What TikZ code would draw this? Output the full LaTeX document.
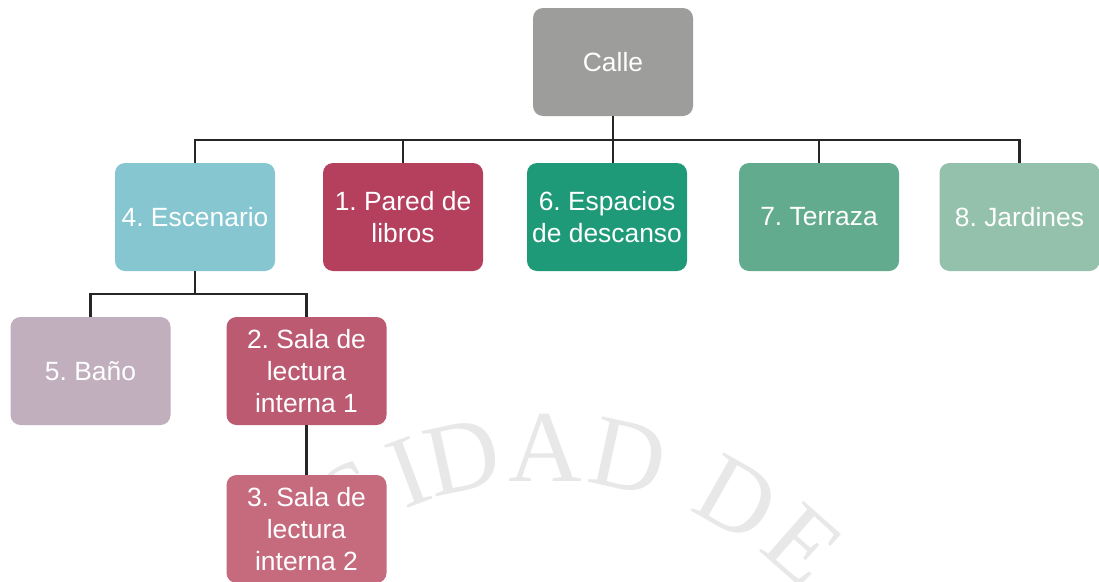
\documentclass[tikz,border=0pt]{standalone}
\usepackage{fontspec}
\setmainfont{Liberation Sans}
\newfontfamily\wmfont{Liberation Serif}
\definecolor{cCalle}{HTML}{9D9D9C}
\definecolor{cEsc}{HTML}{85C6D0}
\definecolor{cPared}{HTML}{B5405E}
\definecolor{cEsp}{HTML}{1E9A78}
\definecolor{cTerr}{HTML}{63AB8F}
\definecolor{cJard}{HTML}{94C1AB}
\definecolor{cBano}{HTML}{C1AFBE}
\definecolor{cSalaA}{HTML}{BC5A72}
\definecolor{cSalaB}{HTML}{C66B7E}
\definecolor{linecol}{HTML}{262626}
\begin{document}
\frenchspacing
\begin{tikzpicture}[x=1pt,y=-1pt,
  box/.style={rectangle, rounded corners=10pt, minimum width=160pt, minimum height=108pt,
    inner sep=2pt, outer sep=0pt, text=white, align=center,
    font=\fontsize{26.4}{32}\selectfont\frenchspacing},
  link/.style={draw=linecol, line width=2.5pt},
  wm/.style={text=black!9, font=\wmfont\fontsize{102}{102}\selectfont, inner sep=0pt}]
\useasboundingbox (0,0) rectangle (1099,581);
\clip (0,0) rectangle (1099,581);
\fill[white] (0,0) rectangle (1099,581);
% watermark
\foreach \l/\a [count=\i] in {S/-29.5, I/-20.5, D/-12.3, A/0, D/12.3, D/29.5, E/41.4}
  \node[wm, rotate=-\a] (wm\i) at ({545+390*sin(\a)},{838-390*cos(\a)}) {\l};
% boxes
\node[box, fill=cCalle] (calle) at (613,62) {Calle};
\node[box, fill=cEsc] (escenario) at (195,217) {4. Escenario};
\node[box, fill=cPared] (pared) at (403,217) {1. Pared de\\libros};
\node[box, fill=cEsp] (espacios) at (607,217) {6. Espacios\\de descanso};
\node[box, fill=cTerr] (terraza) at (819,217) {7. Terraza};
\node[box, fill=cJard] (jardines) at (1019.5,217) {8. Jardines};
\node[box, fill=cBano] (bano) at (90.5,371) {5. Baño};
\node[box, fill=cSalaA] (salaA) at (306.5,371) {2. Sala de\\lectura\\interna 1};
\node[box, fill=cSalaB] (salaB) at (306.5,529) {3. Sala de\\lectura\\interna 2};
% connectors
\coordinate (bar) at (0,140);
\coordinate (bartwo) at (0,294);
\draw[link] (calle.south) -- (calle.south |- espacios.north);
\draw[link] (escenario.north) |- (jardines.north |- bar) -- (jardines.north);
\draw[link] (pared.north) -- (pared.north |- bar);
\draw[link] (terraza.north) -- (terraza.north |- bar);
\draw[link] (escenario.south) -- (escenario.south |- bartwo);
\draw[link] (bano.north) |- (salaA.north |- bartwo) -- (salaA.north);
\draw[link] (salaA.south) -- (salaB.north);
\end{tikzpicture}
\end{document}
